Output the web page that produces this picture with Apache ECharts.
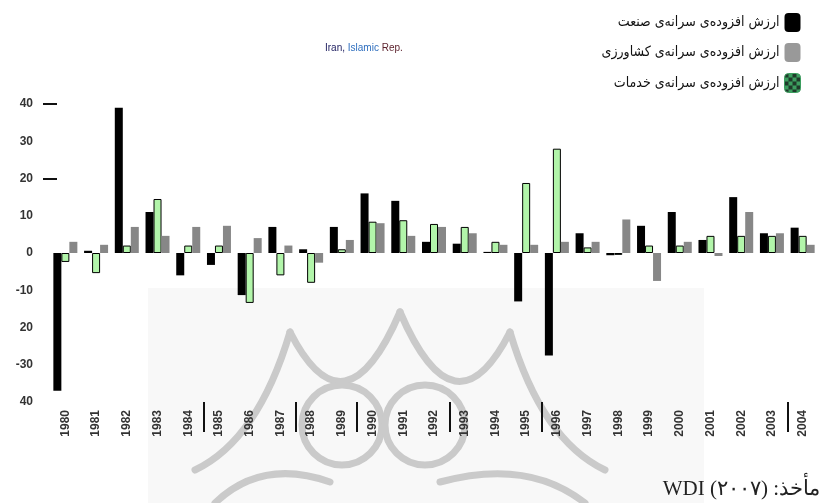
<!DOCTYPE html>
<html>
<head>
<meta charset="utf-8">
<script src="https://cdn.jsdelivr.net/npm/echarts@6/dist/echarts.min.js"></script>
<style>
html,body{margin:0;padding:0;background:#fff;}
#chart{width:828px;height:503px;}
</style>
</head>
<body>
<div id="chart"></div>
<script>
// ---- data ----
var years = ['1980','1981','1982','1983','1984','1985','1986','1987','1988','1989','1990','1991','1992','1993','1994','1995','1996','1997','1998','1999','2000','2001','2002','2003','2004'];
var industry    = [-37, 0.6, 39, 11, -6, -3.2, -11.3, 7, 1, 7, 16, 14, 3, 2.5, 0.3, -13, -27.5, 5.3, -0.6, 7.3, 11, 3.5, 15, 5.3, 6.8];
var services    = [-2.4, -5.4, 2, 14.5, 2, 2, -13.4, -6, -8, 1, 8.4, 8.8, 7.8, 7, 3, 18.8, 28, 1.5, -0.5, 2, 2, 4.6, 4.6, 4.6, 4.6];
var agriculture = [3, 2.2, 7, 4.6, 7, 7.3, 4, 2, -2.6, 3.5, 8, 4.6, 7, 5.3, 2.2, 2.2, 3, 3, 9, -7.5, 3, -0.8, 11, 5.3, 2.2];
var seriesNames = ['ارزش افزوده\u200cی سرانه\u200cی صنعت', 'ارزش افزوده\u200cی سرانه\u200cی کشاورزی', 'ارزش افزوده\u200cی سرانه\u200cی خدمات'];
var yTickValues = [40, 30, 20, 10, 0, -10, -20, -30, -40];
var yTickLabels = ['40', '30', '20', '10', '0', '-10', '20', '-30', '40'];
var boundaryMarks = [5, 8, 10, 13, 16, 24];   // category boundaries carrying a vertical mark
var titleParts = ['Iran,', 'Islamic', 'Rep.'];
var sourceText = 'WDI (۲۰۰۷) :مأخذ';

function makeChecker(c1, c2, cell) {
  var cv = document.createElement('canvas');
  cv.width = cell * 2; cv.height = cell * 2;
  var ctx = cv.getContext('2d');
  ctx.fillStyle = c1; ctx.fillRect(0, 0, cell * 2, cell * 2);
  ctx.fillStyle = c2;
  ctx.fillRect(0, 0, cell, cell); ctx.fillRect(cell, cell, cell, cell);
  return cv;
}

var boundaries = [];
for (var b = 0; b <= years.length; b++) boundaries.push(String(b));

var chart = echarts.init(document.getElementById('chart'), null, {renderer: 'canvas'});

var wm = {stroke: '#cacaca', lineWidth: 7, fill: null, lineCap: 'round'};
var graphics = [
  {type: 'rect', z: -10, silent: true, shape: {x: 148, y: 288, width: 556, height: 215}, style: {fill: '#f8f8f8'}},
  {type: 'bezierCurve', z: -9, silent: true, shape: {x1: 290, y1: 332, x2: 400, y2: 312, cpx1: 345, cpy1: 440}, style: wm},
  {type: 'bezierCurve', z: -9, silent: true, shape: {x1: 400, y1: 312, x2: 510, y2: 332, cpx1: 455, cpy1: 440}, style: wm},
  {type: 'bezierCurve', z: -9, silent: true, shape: {x1: 290, y1: 332, x2: 195, y2: 470, cpx1: 258, cpy1: 440}, style: wm},
  {type: 'bezierCurve', z: -9, silent: true, shape: {x1: 510, y1: 332, x2: 605, y2: 470, cpx1: 542, cpy1: 440}, style: wm},
  {type: 'circle', z: -9, silent: true, shape: {cx: 342, cy: 425, r: 40}, style: wm},
  {type: 'circle', z: -9, silent: true, shape: {cx: 425, cy: 425, r: 40}, style: wm},
  {type: 'bezierCurve', z: -9, silent: true, shape: {x1: 215, y1: 503, x2: 330, y2: 482, cpx1: 262, cpy1: 458}, style: wm},
  {type: 'bezierCurve', z: -9, silent: true, shape: {x1: 440, y1: 482, x2: 585, y2: 503, cpx1: 528, cpy1: 458}, style: wm},
  {type: 'text', z: 5, right: 8, bottom: 3, style: {text: sourceText, fontSize: 21, fontFamily: '"Liberation Serif","DejaVu Serif",serif', fill: '#222'}}
];

var option = {
  animation: false,
  backgroundColor: '#fff',
  title: {
    text: '{a|' + titleParts[0] + '} {b|' + titleParts[1] + '} {c|' + titleParts[2] + '}',
    left: 320, top: 38,
    textStyle: {
      fontSize: 10, fontWeight: 'normal', fontFamily: '"Liberation Sans",Arial,sans-serif',
      rich: {
        a: {color: '#1c1c5e', fontSize: 10},
        b: {color: '#2f6fbf', fontSize: 10},
        c: {color: '#5a1f2a', fontSize: 10}
      }
    }
  },
  legend: {
    orient: 'vertical', right: 22, top: 8, align: 'right',
    itemWidth: 16, itemHeight: 19, itemGap: 11,
    textStyle: {fontSize: 14, color: '#111', fontFamily: '"DejaVu Sans Condensed","DejaVu Sans",sans-serif'},
    data: [
      {name: seriesNames[0], itemStyle: {color: '#000', borderWidth: 0}},
      {name: seriesNames[1], itemStyle: {color: '#999', borderWidth: 0}},
      {name: seriesNames[2], itemStyle: {color: {image: makeChecker('#3c9e5f', '#1f3a2a', 4), repeat: 'repeat'}, borderColor: '#3c9e5f', borderWidth: 1}}
    ]
  },
  grid: {left: 50, right: 10, top: 104, bottom: 101},
  xAxis: [{
    type: 'category', data: years, position: 'bottom',
    axisLine: {show: false, onZero: false},
    axisTick: {show: false},
    axisLabel: {rotate: 90, margin: 8, fontSize: 12, fontWeight: 'bold', color: '#333', fontFamily: '"Liberation Sans",Arial,sans-serif', interval: 0},
    splitLine: {show: false}
  }, {
    type: 'category', data: boundaries, boundaryGap: false, position: 'bottom',
    axisLine: {show: false, onZero: false},
    axisLabel: {show: false},
    axisTick: {show: true, length: 30, interval: function (i) { return boundaryMarks.indexOf(i) >= 0; }, lineStyle: {color: '#111', width: 2}},
    splitLine: {show: false}
  }],
  yAxis: {
    type: 'value', min: -40, max: 40, interval: 10, offset: -7,
    axisLine: {show: false},
    axisTick: {show: true, customValues: [40, 20], length: 14, lineStyle: {color: '#111', width: 2}},
    axisLabel: {
      margin: 24, fontSize: 12, fontWeight: 'bold', color: '#333', fontFamily: '"Liberation Sans",Arial,sans-serif',
      formatter: function (v) { var k = yTickValues.indexOf(v); return k >= 0 ? yTickLabels[k] : ''; }
    },
    splitLine: {show: false}
  },
  series: [
    {name: seriesNames[0], type: 'bar', data: industry, barWidth: 8, barGap: '0%', itemStyle: {color: '#000'}},
    {name: seriesNames[2], type: 'bar', data: services, barWidth: 8, barGap: '0%', itemStyle: {color: '#b2f5aa', borderColor: '#000', borderWidth: 1}},
    {name: seriesNames[1], type: 'bar', data: agriculture, barWidth: 8, barGap: '0%', itemStyle: {color: '#878787'}}
  ],
  graphic: graphics
};
chart.setOption(option);
</script>
</body>
</html>
